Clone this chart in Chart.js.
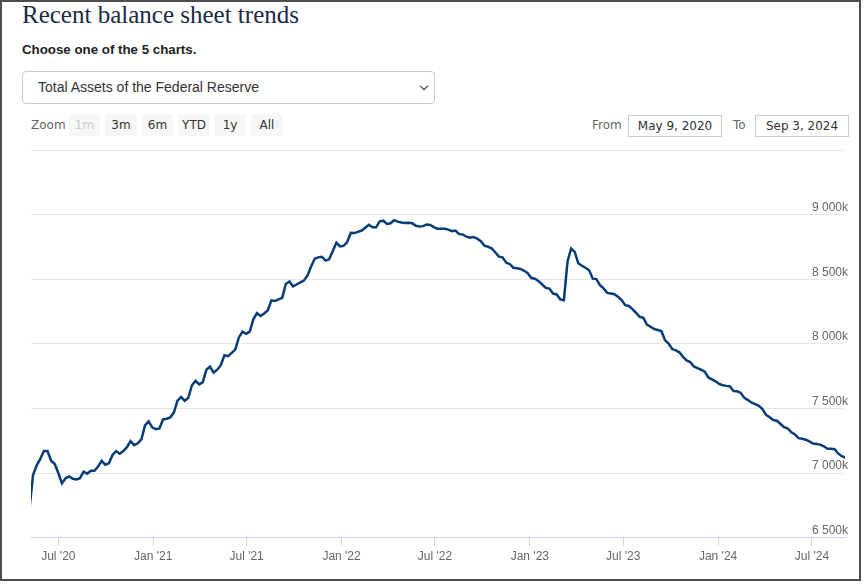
<!DOCTYPE html>
<html>
<head>
<meta charset="utf-8">
<script src="https://cdn.jsdelivr.net/npm/chart.js@4.4.1/dist/chart.umd.min.js"></script>
<style>
  html, body { margin: 0; padding: 0; background: #fff; }
  body { width: 865px; height: 587px; position: relative; overflow: hidden; font-family: "Liberation Sans", Arial, sans-serif; }
  .frame { position: absolute; left: 0; top: 0; width: 857px; height: 577px; border: 2px solid #4d4d4d; }
  .title { position: absolute; left: 22px; top: 1px; font-family: "Liberation Serif", "DejaVu Serif", serif; font-size: 25px; color: #1b2a47; white-space: nowrap; }
  .choose { position: absolute; left: 22px; top: 42px; font-size: 13.3px; font-weight: bold; color: #222; white-space: nowrap; }
  .select { position: absolute; left: 22px; top: 71px; width: 411px; height: 31px; border: 1px solid #c9c9c9; border-radius: 4px; background: #fff; }
  .select .txt { position: absolute; left: 15px; top: 0; line-height: 31px; font-size: 14px; color: #333; white-space: nowrap; }
  .select .chev { position: absolute; right: 7px; top: 11px; width: 5px; height: 5px; border-right: 1.5px solid #333; border-bottom: 1.5px solid #333; transform: rotate(45deg); }
  .lbl { position: absolute; font-family: "DejaVu Sans", sans-serif; font-size: 12px; color: #666; white-space: nowrap; }
  .btn { position: absolute; top: 114px; height: 22px; line-height: 22px; background: #f7f7f7; font-family: "DejaVu Sans", sans-serif; font-size: 12px; color: #333; text-align: center; }
  .btn.dis { color: #cccccc; }
  .inp { position: absolute; top: 115px; height: 20px; line-height: 20px; border: 1px solid #cccccc; font-family: "DejaVu Sans", sans-serif; font-size: 12px; color: #333; text-align: center; background: #fff; }
  .chartwrap { position: absolute; left: 0; top: 140px; width: 865px; height: 440px; }
</style>
</head>
<body>
<div class="frame"></div>
<div class="title">Recent balance sheet trends</div>
<div class="choose">Choose one of the 5 charts.</div>
<div class="select"><span class="txt">Total Assets of the Federal Reserve</span><span class="chev"></span></div>
<span class="lbl" style="left:31px; top:118px;">Zoom</span>
<span class="btn dis" style="left:69px; width:31px;">1m</span>
<span class="btn" style="left:105px; width:32px;">3m</span>
<span class="btn" style="left:142px; width:31px;">6m</span>
<span class="btn" style="left:178px; width:32px;">YTD</span>
<span class="btn" style="left:214px; width:32px;">1y</span>
<span class="btn" style="left:251px; width:32px;">All</span>
<span class="lbl" style="left:592px; top:118px;">From</span>
<span class="inp" style="left:628px; width:92px;">May 9, 2020</span>
<span class="lbl" style="left:733px; top:118px;">To</span>
<span class="inp" style="left:755px; width:92px;">Sep 3, 2024</span>
<div class="chartwrap"><canvas id="c"></canvas></div>
<script>
// ---- data (millions of dollars, weekly Wednesday levels) ----
const seriesName = 'Total Assets of the Federal Reserve';
const firstWeek = '2020-05-06';
const totalAssets = [
  6720,
  6985, 7060, 7110, 7170, 7170, 7095, 7070, 7000, 6920, 6960,
  6973, 6955, 6950, 6960, 7010, 6995, 7018, 7018, 7050, 7094,
  7064, 7075, 7140, 7170, 7150, 7170, 7200, 7247, 7216, 7230,
  7260, 7369, 7400, 7354, 7340, 7345, 7415, 7420, 7430, 7470,
  7560, 7588, 7560, 7582, 7680, 7714, 7686, 7704, 7800, 7824,
  7778, 7800, 7835, 7912, 7905, 7930, 7956, 8050, 8095, 8078,
  8095, 8190, 8238, 8217, 8235, 8260, 8337, 8332, 8345, 8357,
  8464, 8484, 8446, 8460, 8476, 8490, 8530, 8600, 8660, 8670,
  8675, 8645, 8655, 8720, 8784, 8755, 8760, 8789, 8860, 8858,
  8868, 8878, 8900, 8922, 8903, 8903, 8949, 8954, 8929, 8934,
  8958, 8947, 8940, 8937, 8939, 8935, 8915, 8909, 8912, 8925,
  8922, 8905, 8891, 8891, 8891, 8885, 8873, 8878, 8850, 8848,
  8830, 8822, 8827, 8815, 8795, 8760, 8752, 8740, 8710, 8676,
  8670, 8630, 8619, 8590, 8586, 8580, 8566, 8548, 8510, 8505,
  8486, 8460, 8434, 8428, 8390, 8383, 8345, 8338, 8636, 8739,
  8713, 8624, 8605, 8590, 8570, 8505, 8502, 8455, 8430, 8395,
  8390, 8385, 8365, 8340, 8300, 8294, 8270, 8240, 8210, 8202,
  8150, 8133, 8115, 8108, 8100, 8030, 8002, 7960, 7950, 7935,
  7900, 7872, 7860, 7825, 7812, 7800, 7785, 7740, 7725, 7710,
  7690, 7680, 7675, 7671, 7635, 7633, 7620, 7582, 7565, 7545,
  7533, 7520, 7495, 7450, 7432, 7410, 7405, 7380, 7355, 7345,
  7316, 7298, 7270, 7265, 7258, 7245, 7228, 7224, 7220, 7207,
  7188, 7188, 7185, 7150, 7130, 7118
];
const rangeFrom = '2020-05-09';
const rangeTo = '2024-09-03';
const xTickDates = ['2020-07-01', '2021-01-01', '2021-07-01', '2022-01-01', '2022-07-01',
                    '2023-01-01', '2023-07-01', '2024-01-01', '2024-07-01'];
const yMin = 6500, yMax = 9500, yStep = 500;

// ---- build ----
const DAY = 86400000;
const toMs = s => Date.parse(s + 'T00:00:00Z');
const startMs = toMs(firstWeek);
const points = totalAssets.map((v, i) => ({ x: startMs + i * 7 * DAY, y: v }));
const MONTHS = ['Jan','Feb','Mar','Apr','May','Jun','Jul','Aug','Sep','Oct','Nov','Dec'];
const fmtX = v => { const d = new Date(v); return MONTHS[d.getUTCMonth()] + " '" + String(d.getUTCFullYear()).slice(2); };
const fmtY = v => v >= yMax ? '' : Math.floor(v / 1000) + ' ' + String(v % 1000).padStart(3, '0') + 'k';

const axisFont = { family: '"Liberation Sans", Arial, sans-serif', size: 12 };

new Chart(document.getElementById('c'), {
  type: 'line',
  data: { datasets: [{
    label: seriesName,
    data: points,
    borderColor: '#083d77',
    borderWidth: 2.5,
    pointRadius: 0,
    tension: 0,
    fill: false
  }]},
  options: {
    responsive: true,
    maintainAspectRatio: false,
    animation: false,
    devicePixelRatio: 1,
    layout: { padding: { left: 31, right: 14, top: 8, bottom: 12 } },
    plugins: { legend: { display: false }, tooltip: { enabled: false } },
    scales: {
      x: {
        type: 'linear',
        min: toMs(rangeFrom),
        max: toMs(rangeTo),
        afterBuildTicks: s => { s.ticks = xTickDates.map(d => ({ value: toMs(d) })); },
        ticks: { callback: v => fmtX(v), color: '#666', font: axisFont, maxRotation: 0, autoSkip: false, padding: 4 },
        grid: { drawOnChartArea: false, drawTicks: true, tickLength: 8, color: '#ccd6eb' },
        border: { color: '#ccd6eb', width: 1 }
      },
      y: {
        position: 'right',
        min: yMin,
        max: yMax,
        ticks: { stepSize: yStep, mirror: true, padding: 3, labelOffset: -7, callback: v => fmtY(v), color: '#666', font: axisFont },
        grid: { color: '#e6e6e6', drawTicks: false, lineWidth: 1 },
        border: { display: false }
      }
    }
  }
});
</script>
</body>
</html>
